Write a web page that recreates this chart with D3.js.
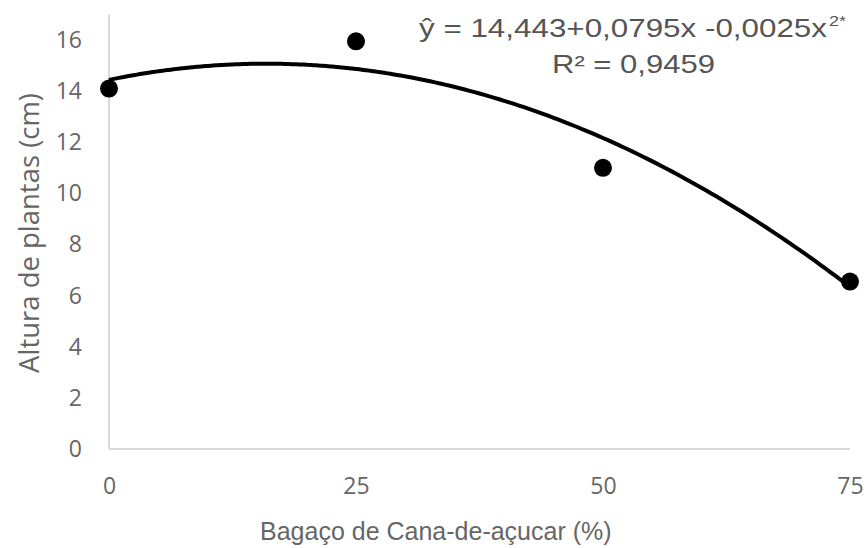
<!DOCTYPE html>
<html>
<head>
<meta charset="utf-8">
<script src="https://cdn.jsdelivr.net/npm/d3@7"></script>
<style>
  body { margin: 0; background: #fff; }
  svg { display: block; }
</style>
</head>
<body>
<div id="chart"></div>
<script>
var doses = [0, 25, 50, 75];
var altura = [14.1, 15.95, 11.0, 6.55];
var xTicks = [0, 25, 50, 75];
var yTicks = [0, 2, 4, 6, 8, 10, 12, 14, 16];
var coefs = [14.443, 0.0795, -0.0025];

var w = 868, h = 548;

var svg = d3.select("#chart").append("svg")
  .attr("width", w)
  .attr("height", h);

var xScale = d3.scaleLinear().domain([0, 75]).range([109, 850]);
var yScale = d3.scaleLinear().domain([0, 17]).range([449, 14.5]);

// axis lines
svg.append("line")
  .attr("x1", xScale(0)).attr("x2", xScale(75))
  .attr("y1", yScale(0)).attr("y2", yScale(0))
  .attr("stroke", "#d9d9d9").attr("stroke-width", 2);
svg.append("line")
  .attr("x1", xScale(0)).attr("x2", xScale(0))
  .attr("y1", yScale(0)).attr("y2", yScale(17))
  .attr("stroke", "#d9d9d9").attr("stroke-width", 2);

var xAxis = d3.axisBottom(xScale).tickValues(xTicks).tickSize(0).tickPadding(0);
var yAxis = d3.axisLeft(yScale).tickValues(yTicks).tickSize(0).tickPadding(0);

var gx = svg.append("g")
  .attr("transform", "translate(0," + (yScale(0) + 29) + ")")
  .call(xAxis);
var gy = svg.append("g")
  .attr("transform", "translate(82,0)")
  .call(yAxis);

[gx, gy].forEach(function(g) {
  g.select(".domain").remove();
  g.selectAll("text")
    .attr("fill", "#666")
    .style("font-family", "'Open Sans', sans-serif")
    .style("font-size", "23px");
});
gx.selectAll("text").attr("dy", "0.71em");

// trendline from the fitted equation
var curveX = d3.range(0, 75.01, 0.5);
var line = d3.line()
  .x(function(d) { return xScale(d); })
  .y(function(d) { return yScale(coefs[0] + coefs[1] * d + coefs[2] * d * d); })
  .curve(d3.curveMonotoneX);
svg.append("path")
  .datum(curveX)
  .attr("d", line)
  .attr("fill", "none")
  .attr("stroke", "#000")
  .attr("stroke-width", 4);

svg.selectAll("circle.pt")
  .data(doses)
  .enter()
  .append("circle")
  .attr("class", "pt")
  .attr("cx", function(d) { return xScale(d); })
  .attr("cy", function(d, i) { return yScale(altura[i]); })
  .attr("r", 9)
  .attr("fill", "#000");

// axis titles
svg.append("text")
  .attr("x", 260).attr("y", 540)
  .attr("fill", "#666")
  .style("font-family", "'Liberation Sans', Arial, sans-serif")
  .style("font-size", "25px")
  .text("Bagaço de Cana-de-açucar (%)");

var yTitle = svg.append("text")
  .attr("transform", "translate(39,233) rotate(-90)")
  .attr("text-anchor", "middle")
  .attr("fill", "#666")
  .style("font-family", "'Open Sans', sans-serif")
  .style("font-size", "24px")
  .text("Altura de plantas (cm)");
// fit to the title length seen in the reference (~280px)
var len = yTitle.node().getComputedTextLength();
yTitle.style("font-size", (24 * 280 / len) + "px");

// equation (glyphs are drawn a bit wide in the reference)
svg.append("text")
  .attr("x", 419).attr("y", 37)
  .attr("fill", "#555")
  .attr("textLength", 408)
  .attr("lengthAdjust", "spacingAndGlyphs")
  .style("font-family", "'Liberation Sans', Arial, sans-serif")
  .style("font-size", "26px")
  .text("ŷ = 14,443+0,0795x -0,0025x");
svg.append("text")
  .attr("x", 829).attr("y", 26)
  .attr("fill", "#555")
  .attr("textLength", 17)
  .attr("lengthAdjust", "spacingAndGlyphs")
  .style("font-family", "'Liberation Sans', Arial, sans-serif")
  .style("font-size", "14px")
  .text("2*");

svg.append("text")
  .attr("x", 552).attr("y", 73)
  .attr("fill", "#555")
  .attr("textLength", 163)
  .attr("lengthAdjust", "spacingAndGlyphs")
  .style("font-family", "'Liberation Sans', Arial, sans-serif")
  .style("font-size", "26px")
  .text("R² = 0,9459");
</script>
</body>
</html>
